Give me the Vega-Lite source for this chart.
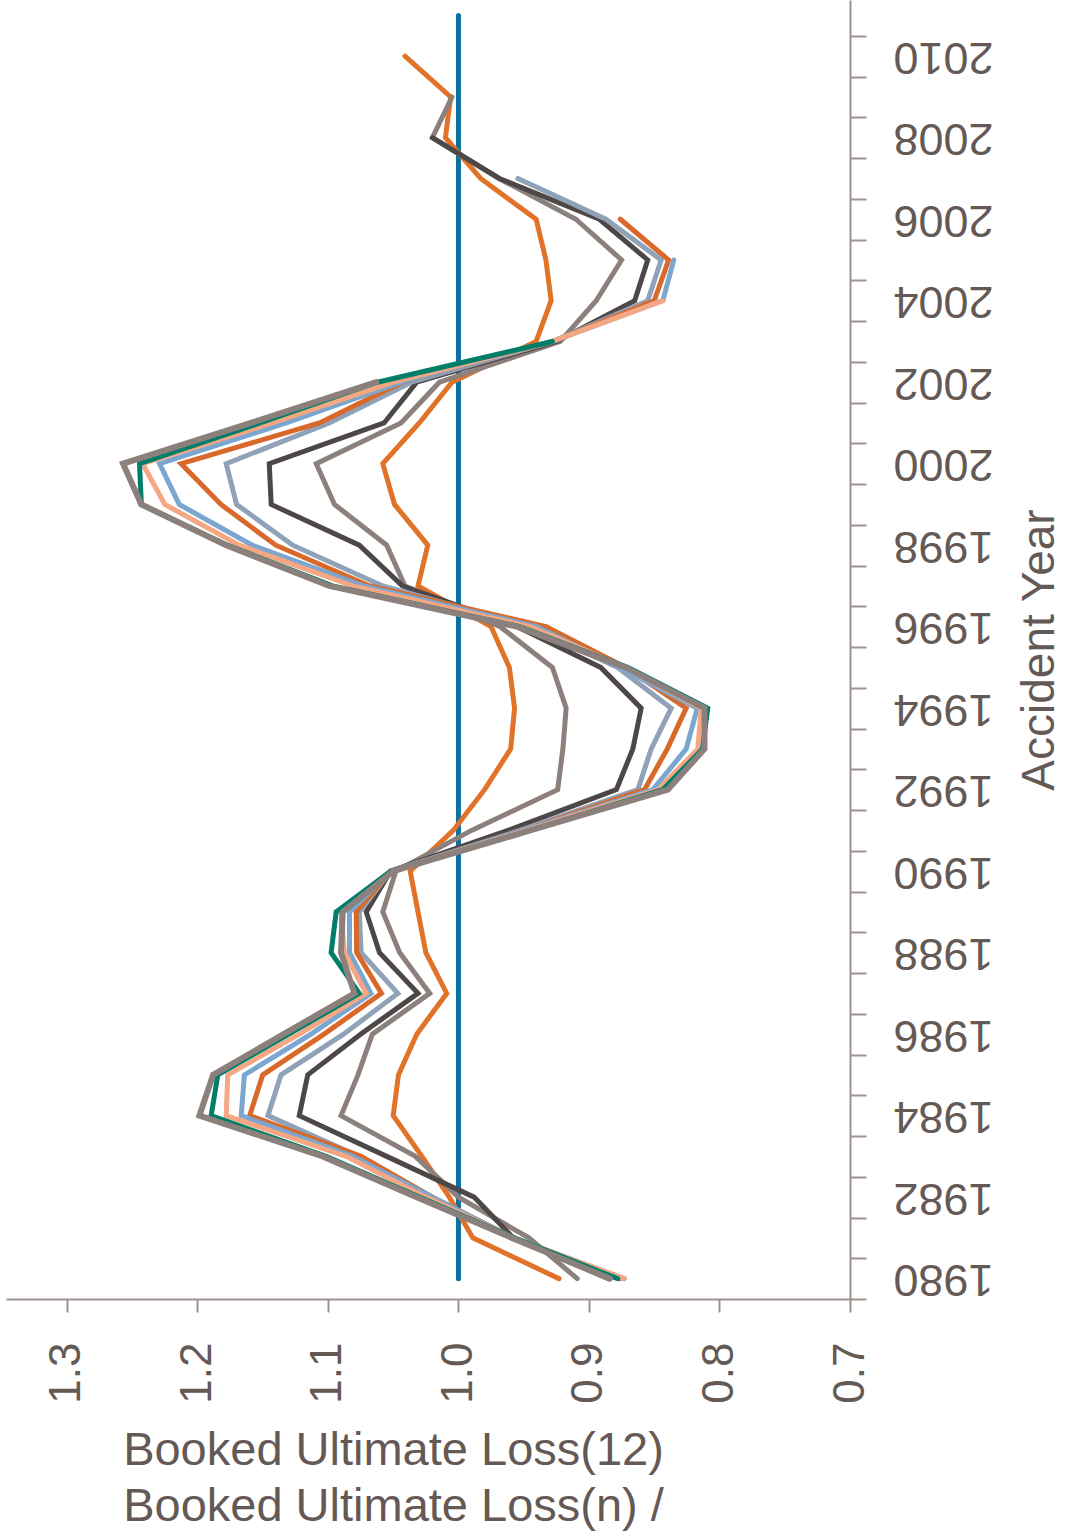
{
"$schema": "https://vega.github.io/schema/vega-lite/v6.json",
"width": 844, "height": 1299,
"autosize": {"type": "none"},
"padding": {"left": 6, "top": 0, "right": 216, "bottom": 239},
"background": "white",
"config": {"view": {"stroke": null}, "font": "Liberation Sans"},
"datasets": {
"curves": [
{"series":"n024","year":1980,"value":0.923},{"series":"n024","year":1981,"value":0.989},{"series":"n024","year":1982,"value":1.007},{"series":"n024","year":1983,"value":1.028},{"series":"n024","year":1984,"value":1.050},{"series":"n024","year":1985,"value":1.046},{"series":"n024","year":1986,"value":1.032},{"series":"n024","year":1987,"value":1.009},{"series":"n024","year":1988,"value":1.025},{"series":"n024","year":1989,"value":1.031},{"series":"n024","year":1990,"value":1.037},{"series":"n024","year":1991,"value":1.004},{"series":"n024","year":1992,"value":0.980},{"series":"n024","year":1993,"value":0.960},{"series":"n024","year":1994,"value":0.957},{"series":"n024","year":1995,"value":0.961},{"series":"n024","year":1996,"value":0.975},{"series":"n024","year":1997,"value":1.031},{"series":"n024","year":1998,"value":1.0235},{"series":"n024","year":1999,"value":1.049},{"series":"n024","year":2000,"value":1.058},{"series":"n024","year":2001,"value":1.030},{"series":"n024","year":2002,"value":1.005},{"series":"n024","year":2003,"value":0.9405},{"series":"n024","year":2004,"value":0.929},{"series":"n024","year":2005,"value":0.933},{"series":"n024","year":2006,"value":0.9405},{"series":"n024","year":2007,"value":0.983},{"series":"n024","year":2008,"value":1.010},{"series":"n024","year":2009,"value":1.006},{"series":"n024","year":2010,"value":1.041},
{"series":"n036","year":1980,"value":0.909},{"series":"n036","year":1981,"value":0.946},{"series":"n036","year":1982,"value":1.000},{"series":"n036","year":1983,"value":1.033},{"series":"n036","year":1984,"value":1.090},{"series":"n036","year":1985,"value":1.077},{"series":"n036","year":1986,"value":1.066},{"series":"n036","year":1987,"value":1.022},{"series":"n036","year":1988,"value":1.045},{"series":"n036","year":1989,"value":1.058},{"series":"n036","year":1990,"value":1.048},{"series":"n036","year":1991,"value":0.990},{"series":"n036","year":1992,"value":0.924},{"series":"n036","year":1993,"value":0.920},{"series":"n036","year":1994,"value":0.9175},{"series":"n036","year":1995,"value":0.928},{"series":"n036","year":1996,"value":0.968},{"series":"n036","year":1997,"value":1.041},{"series":"n036","year":1998,"value":1.055},{"series":"n036","year":1999,"value":1.095},{"series":"n036","year":2000,"value":1.109},{"series":"n036","year":2001,"value":1.044},{"series":"n036","year":2002,"value":1.0146},{"series":"n036","year":2003,"value":0.922},{"series":"n036","year":2004,"value":0.8945},{"series":"n036","year":2005,"value":0.875},{"series":"n036","year":2006,"value":0.910},{"series":"n036","year":2007,"value":0.969},{"series":"n036","year":2008,"value":1.020},{"series":"n036","year":2009,"value":1.005},
{"series":"n048","year":1980,"value":0.885},{"series":"n048","year":1981,"value":0.958},{"series":"n048","year":1982,"value":0.988},{"series":"n048","year":1983,"value":1.055},{"series":"n048","year":1984,"value":1.122},{"series":"n048","year":1985,"value":1.1155},{"series":"n048","year":1986,"value":1.075},{"series":"n048","year":1987,"value":1.031},{"series":"n048","year":1988,"value":1.0605},{"series":"n048","year":1989,"value":1.0707},{"series":"n048","year":1990,"value":1.052},{"series":"n048","year":1991,"value":0.962},{"series":"n048","year":1992,"value":0.879},{"series":"n048","year":1993,"value":0.8664},{"series":"n048","year":1994,"value":0.860},{"series":"n048","year":1995,"value":0.891},{"series":"n048","year":1996,"value":0.955},{"series":"n048","year":1997,"value":1.043},{"series":"n048","year":1998,"value":1.076},{"series":"n048","year":1999,"value":1.1435},{"series":"n048","year":2000,"value":1.145},{"series":"n048","year":2001,"value":1.057},{"series":"n048","year":2002,"value":1.032},{"series":"n048","year":2003,"value":0.925},{"series":"n048","year":2004,"value":0.865},{"series":"n048","year":2005,"value":0.855},{"series":"n048","year":2006,"value":0.892},{"series":"n048","year":2007,"value":0.9686},{"series":"n048","year":2008,"value":1.020},
{"series":"n060","year":1980,"value":0.876},{"series":"n060","year":1981,"value":0.958},{"series":"n060","year":1982,"value":1.020},{"series":"n060","year":1983,"value":1.076},{"series":"n060","year":1984,"value":1.146},{"series":"n060","year":1985,"value":1.136},{"series":"n060","year":1986,"value":1.088},{"series":"n060","year":1987,"value":1.0465},{"series":"n060","year":1988,"value":1.0746},{"series":"n060","year":1989,"value":1.076},{"series":"n060","year":1990,"value":1.052},{"series":"n060","year":1991,"value":0.953},{"series":"n060","year":1992,"value":0.8626},{"series":"n060","year":1993,"value":0.8523},{"series":"n060","year":1994,"value":0.837},{"series":"n060","year":1995,"value":0.878},{"series":"n060","year":1996,"value":0.945},{"series":"n060","year":1997,"value":1.058},{"series":"n060","year":1998,"value":1.127},{"series":"n060","year":1999,"value":1.170},{"series":"n060","year":2000,"value":1.178},{"series":"n060","year":2001,"value":1.099},{"series":"n060","year":2002,"value":1.036},{"series":"n060","year":2003,"value":0.928},{"series":"n060","year":2004,"value":0.855},{"series":"n060","year":2005,"value":0.8447},{"series":"n060","year":2006,"value":0.887},{"series":"n060","year":2007,"value":0.9545},
{"series":"n072","year":1980,"value":0.877},{"series":"n072","year":1981,"value":0.958},{"series":"n072","year":1982,"value":1.020},{"series":"n072","year":1983,"value":1.0746},{"series":"n072","year":1984,"value":1.160},{"series":"n072","year":1985,"value":1.150},{"series":"n072","year":1986,"value":1.103},{"series":"n072","year":1987,"value":1.059},{"series":"n072","year":1988,"value":1.078},{"series":"n072","year":1989,"value":1.0784},{"series":"n072","year":1990,"value":1.052},{"series":"n072","year":1991,"value":0.950},{"series":"n072","year":1992,"value":0.8575},{"series":"n072","year":1993,"value":0.840},{"series":"n072","year":1994,"value":0.8255},{"series":"n072","year":1995,"value":0.872},{"series":"n072","year":1996,"value":0.933},{"series":"n072","year":1997,"value":1.068},{"series":"n072","year":1998,"value":1.140},{"series":"n072","year":1999,"value":1.182},{"series":"n072","year":2000,"value":1.2125},{"series":"n072","year":2001,"value":1.1065},{"series":"n072","year":2002,"value":1.043},{"series":"n072","year":2003,"value":0.928},{"series":"n072","year":2004,"value":0.850},{"series":"n072","year":2005,"value":0.839},{"series":"n072","year":2006,"value":0.876},
{"series":"n084","year":1980,"value":0.873},{"series":"n084","year":1981,"value":0.958},{"series":"n084","year":1982,"value":1.020},{"series":"n084","year":1983,"value":1.081},{"series":"n084","year":1984,"value":1.1665},{"series":"n084","year":1985,"value":1.164},{"series":"n084","year":1986,"value":1.113},{"series":"n084","year":1987,"value":1.067},{"series":"n084","year":1988,"value":1.0835},{"series":"n084","year":1989,"value":1.0835},{"series":"n084","year":1990,"value":1.052},{"series":"n084","year":1991,"value":0.950},{"series":"n084","year":1992,"value":0.851},{"series":"n084","year":1993,"value":0.8255},{"series":"n084","year":1994,"value":0.817},{"series":"n084","year":1995,"value":0.876},{"series":"n084","year":1996,"value":0.940},{"series":"n084","year":1997,"value":1.073},{"series":"n084","year":1998,"value":1.158},{"series":"n084","year":1999,"value":1.214},{"series":"n084","year":2000,"value":1.229},{"series":"n084","year":2001,"value":1.132},{"series":"n084","year":2002,"value":1.044},{"series":"n084","year":2003,"value":0.928},{"series":"n084","year":2004,"value":0.8434},{"series":"n084","year":2005,"value":0.835},
{"series":"n096","year":1980,"value":0.873},{"series":"n096","year":1981,"value":0.958},{"series":"n096","year":1982,"value":1.025},{"series":"n096","year":1983,"value":1.086},{"series":"n096","year":1984,"value":1.178},{"series":"n096","year":1985,"value":1.1768},{"series":"n096","year":1986,"value":1.122},{"series":"n096","year":1987,"value":1.0707},{"series":"n096","year":1988,"value":1.0874},{"series":"n096","year":1989,"value":1.090},{"series":"n096","year":1990,"value":1.052},{"series":"n096","year":1991,"value":0.948},{"series":"n096","year":1992,"value":0.847},{"series":"n096","year":1993,"value":0.8166},{"series":"n096","year":1994,"value":0.814},{"series":"n096","year":1995,"value":0.872},{"series":"n096","year":1996,"value":0.945},{"series":"n096","year":1997,"value":1.081},{"series":"n096","year":1998,"value":1.168},{"series":"n096","year":1999,"value":1.225},{"series":"n096","year":2000,"value":1.242},{"series":"n096","year":2001,"value":1.1425},{"series":"n096","year":2002,"value":1.050},{"series":"n096","year":2003,"value":0.928},{"series":"n096","year":2004,"value":0.8434},
{"series":"n108","year":1980,"value":0.878},{"series":"n108","year":1981,"value":0.957},{"series":"n108","year":1982,"value":1.030},{"series":"n108","year":1983,"value":1.1014},{"series":"n108","year":1984,"value":1.1895},{"series":"n108","year":1985,"value":1.1844},{"series":"n108","year":1986,"value":1.130},{"series":"n108","year":1987,"value":1.076},{"series":"n108","year":1988,"value":1.0976},{"series":"n108","year":1989,"value":1.0937},{"series":"n108","year":1990,"value":1.052},{"series":"n108","year":1991,"value":0.945},{"series":"n108","year":1992,"value":0.8435},{"series":"n108","year":1993,"value":0.813},{"series":"n108","year":1994,"value":0.809},{"series":"n108","year":1995,"value":0.870},{"series":"n108","year":1996,"value":0.953},{"series":"n108","year":1997,"value":1.0965},{"series":"n108","year":1998,"value":1.177},{"series":"n108","year":1999,"value":1.243},{"series":"n108","year":2000,"value":1.2444},{"series":"n108","year":2001,"value":1.152},{"series":"n108","year":2002,"value":1.062},{"series":"n108","year":2003,"value":0.928}
],
"curve120": [
{"series":"n120","year":1980,"value":0.884},{"series":"n120","year":1981,"value":0.959},{"series":"n120","year":1982,"value":1.032},{"series":"n120","year":1983,"value":1.104},{"series":"n120","year":1984,"value":1.1985},{"series":"n120","year":1985,"value":1.188},{"series":"n120","year":1986,"value":1.134},{"series":"n120","year":1987,"value":1.0797},{"series":"n120","year":1988,"value":1.090},{"series":"n120","year":1989,"value":1.0887},{"series":"n120","year":1990,"value":1.050},{"series":"n120","year":1991,"value":0.945},{"series":"n120","year":1992,"value":0.8396},{"series":"n120","year":1993,"value":0.8115},{"series":"n120","year":1994,"value":0.8115},{"series":"n120","year":1995,"value":0.872},{"series":"n120","year":1996,"value":0.955},{"series":"n120","year":1997,"value":1.099},{"series":"n120","year":1998,"value":1.178},{"series":"n120","year":1999,"value":1.243},{"series":"n120","year":2000,"value":1.257},{"series":"n120","year":2001,"value":1.159},{"series":"n120","year":2002,"value":1.063}
],
"ref": [
{"year":1980,"value":1.0},{"year":1981,"value":1.0},{"year":1982,"value":1.0},{"year":1983,"value":1.0},{"year":1984,"value":1.0},{"year":1985,"value":1.0},{"year":1986,"value":1.0},{"year":1987,"value":1.0},{"year":1988,"value":1.0},{"year":1989,"value":1.0},{"year":1990,"value":1.0},{"year":1991,"value":1.0},{"year":1992,"value":1.0},{"year":1993,"value":1.0},{"year":1994,"value":1.0},{"year":1995,"value":1.0},{"year":1996,"value":1.0},{"year":1997,"value":1.0},{"year":1998,"value":1.0},{"year":1999,"value":1.0},{"year":2000,"value":1.0},{"year":2001,"value":1.0},{"year":2002,"value":1.0},{"year":2003,"value":1.0},{"year":2004,"value":1.0},{"year":2005,"value":1.0},{"year":2006,"value":1.0},{"year":2007,"value":1.0},{"year":2008,"value":1.0},{"year":2009,"value":1.0},{"year":2010,"value":1.0},{"year":2011,"value":1.0}
]
},
"layer": [
{
"data": {"name": "ref"},
"mark": {"type": "line", "color": "#0b72a0", "strokeWidth": 5, "strokeCap": "round"},
"encoding": {
"x": {"field": "value", "type": "quantitative",
 "scale": {"domain": [0.7, 1.3467], "reverse": true, "nice": false, "zero": false},
 "axis": {"orient": "bottom", "values": [0.7, 0.8, 0.9, 1.0, 1.1, 1.2, 1.3], "format": ".1f",
  "labelAngle": 270, "labelFontSize": 44, "labelColor": "#655956", "labelPadding": 30, "labelFlush": false,
  "tickSize": 13, "tickWidth": 2, "tickColor": "#9d918d", "domainColor": "#9d918d", "domainWidth": 2, "grid": false,
  "title": ["Booked Ultimate Loss(12)", "Booked Ultimate Loss(n) /"], "titleFontSize": 47, "titleFontWeight": "normal",
  "titleColor": "#655956", "titleLineHeight": 56, "titleX": 387, "titleY": 128, "titleAlign": "center", "titleBaseline": "top", "titleAnchor": null}},
"y": {"field": "year", "type": "quantitative",
 "scale": {"domain": [1979.5, 2011.38], "nice": false, "zero": false},
 "axis": {"orient": "right", "values": [1980,1981,1982,1983,1984,1985,1986,1987,1988,1989,1990,1991,1992,1993,1994,1995,1996,1997,1998,1999,2000,2001,2002,2003,2004,2005,2006,2007,2008,2009,2010,2011],
  "format": "d", "labelExpr": "datum.value % 2 == 0 && datum.value <= 2010 ? datum.label : ''",
  "tickOffset": 20.4, "labelOffset": -20.4, "labelAngle": 180, "labelFontSize": 45, "labelColor": "#655956",
  "labelPadding": 27, "labelOverlap": false, "labelBound": false, "labelFlush": false,
  "tickSize": 16, "tickWidth": 2, "tickColor": "#9d918d", "domainColor": "#9d918d", "domainWidth": 2, "grid": false,
  "title": "Accident Year", "titleAngle": 270, "titleFontSize": 46, "titleFontWeight": "normal", "titleColor": "#655956", "titlePadding": 70}},
"order": {"field": "year", "type": "quantitative"}
}
},
{
"data": {"name": "curves"},
"mark": {"type": "line", "strokeCap": "round", "strokeJoin": "miter", "strokeWidth": 5},
"encoding": {
"x": {"field": "value", "type": "quantitative"},
"y": {"field": "year", "type": "quantitative"},
"color": {"field": "series", "type": "nominal",
 "scale": {"domain": ["n024","n036","n048","n060","n072","n084","n096","n108","n120"],
  "range": ["#e07327","#8c807c","#4e4747","#8fa2b8","#d8692b","#7ba6cf","#f5a683","#007e6a","#8c807c"]}, "legend": null},
"order": {"field": "year", "type": "quantitative"}
}
},
{
"data": {"name": "curve120"},
"mark": {"type": "line", "strokeCap": "round", "strokeJoin": "miter", "strokeWidth": 6},
"encoding": {
"x": {"field": "value", "type": "quantitative"},
"y": {"field": "year", "type": "quantitative"},
"color": {"field": "series", "type": "nominal", "legend": null},
"order": {"field": "year", "type": "quantitative"}
}
}
]
}
